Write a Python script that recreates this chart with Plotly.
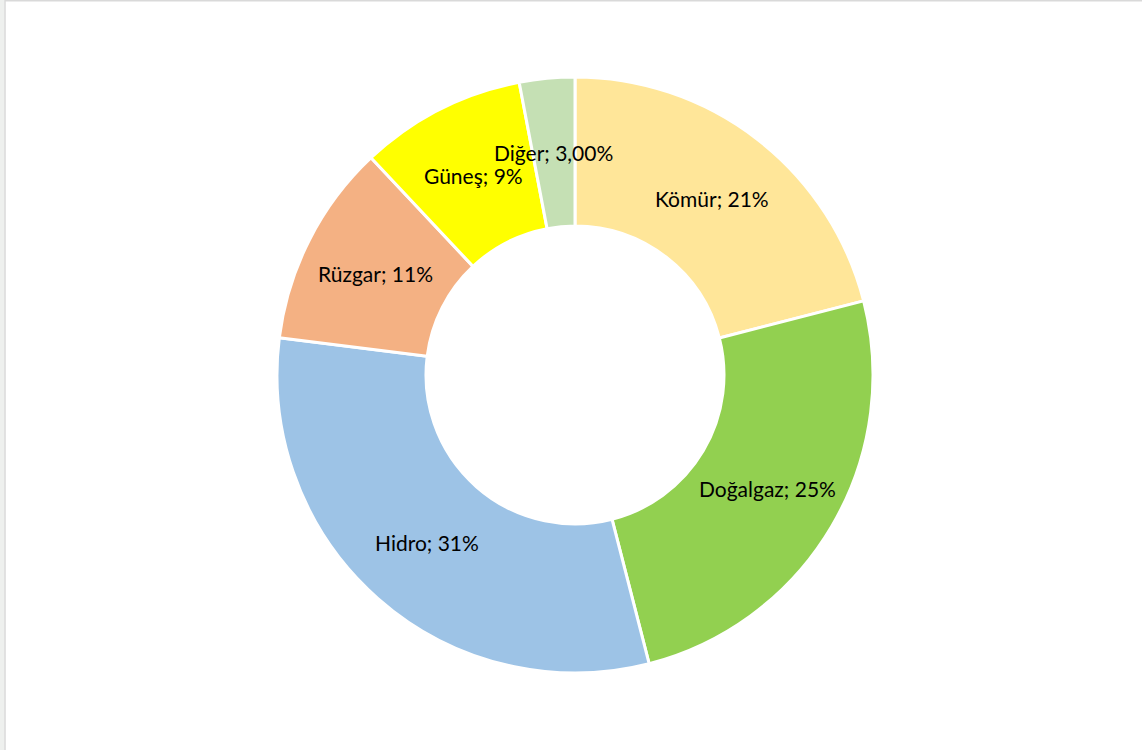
import math
import plotly.graph_objects as go

labels = ["Kömür", "Doğalgaz", "Hidro", "Rüzgar", "Güneş", "Diğer"]
values = [21, 25, 31, 11, 9, 3]
pct_text = ["21%", "25%", "31%", "11%", "9%", "3,00%"]
colors = ["#FFE699", "#92D050", "#9DC3E6", "#F4B183", "#FFFF00", "#C5E0B4"]

W, H = 1142, 750
ml, mr, mt, mb = 88, 80, 77, 77
pw, ph = W - ml - mr, H - mt - mb
HOLE = 0.5
FONT = dict(family="Lato", size=21, color="black")

full_text = [f"{l}; {p}" for l, p in zip(labels, pct_text)]

fig = go.Figure(go.Pie(
    labels=labels,
    values=values,
    textinfo="none",
    hole=HOLE,
    sort=False,
    direction="clockwise",
    rotation=0,
    marker=dict(colors=colors, line=dict(color="white", width=3)),
    showlegend=False,
    hovertext=full_text,
    hoverinfo="text",
))

# data labels placed at each slice's mid-angle and mid-radius (derived from the values)
total = sum(values)
R = min(pw, ph) / 2
r_mid = R * (1 + HOLE) / 2
annotations = []
cum = 0
for v, t in zip(values, full_text):
    theta = 2 * math.pi * (cum + v / 2) / total
    cum += v
    annotations.append(dict(
        x=0.5 + r_mid * math.sin(theta) / pw,
        y=0.5 + r_mid * math.cos(theta) / ph,
        xref="paper", yref="paper", text=t, showarrow=False, font=FONT,
        xanchor="center", yanchor="middle"))

def px_x(p):
    return (p - ml) / pw

def px_y(p):
    return 1 - (p - mt) / ph

fig.update_layout(
    width=W, height=H,
    margin=dict(l=ml, r=mr, t=mt, b=mb),
    paper_bgcolor="white",
    plot_bgcolor="white",
    annotations=annotations,
    shapes=[
        dict(type="rect", xref="paper", yref="paper",
             x0=px_x(0), x1=px_x(4.5), y0=px_y(H), y1=px_y(0),
             fillcolor="#EEF0EE", line=dict(width=0), layer="below"),
        dict(type="line", xref="paper", yref="paper",
             x0=px_x(5), x1=px_x(5), y0=px_y(H), y1=px_y(0),
             line=dict(color="#D9D9D9", width=1.5)),
        dict(type="line", xref="paper", yref="paper",
             x0=px_x(5), x1=px_x(W), y0=px_y(0.75), y1=px_y(0.75),
             line=dict(color="#D9D9D9", width=1.5)),
    ],
)

fig.write_html("out.html")
